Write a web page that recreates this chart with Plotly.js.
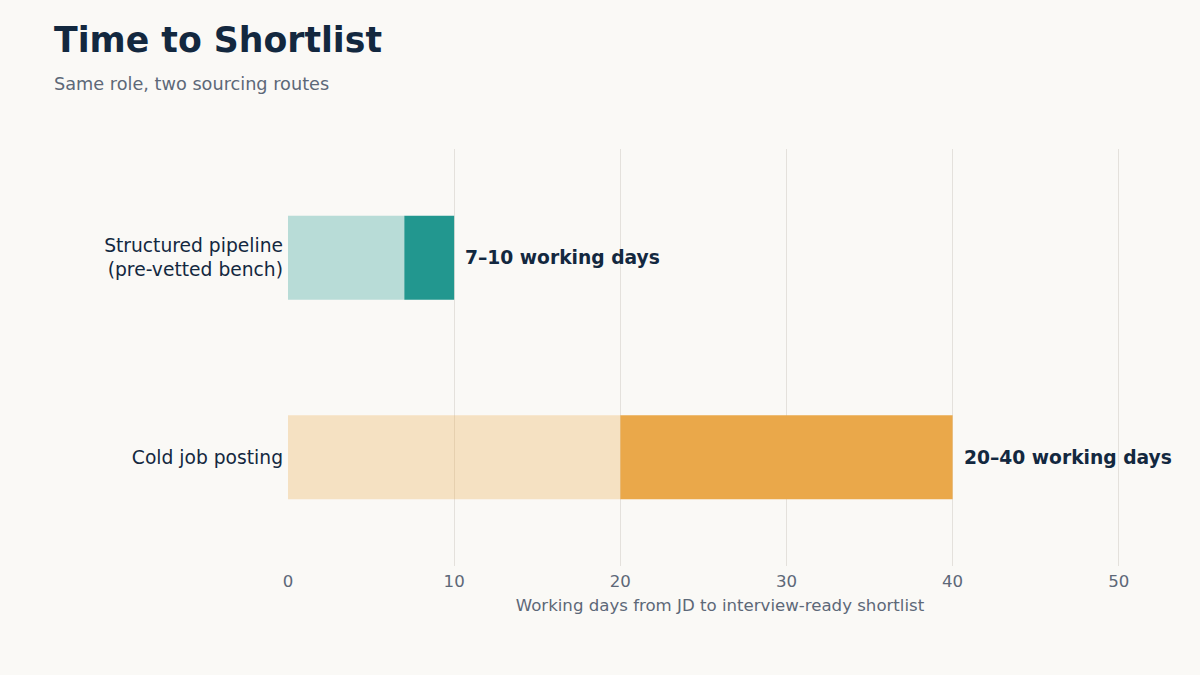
<!DOCTYPE html>
<html>
<head>
<meta charset="utf-8">
<script src="https://cdn.plot.ly/plotly-3.0.1.min.js"></script>
<style>
  html, body { margin: 0; padding: 0; background: #faf9f6; }
  #chart { width: 1200px; height: 675px; }
</style>
</head>
<body>
<div id="chart"></div>
<script>
// Sourcing routes, top to bottom as drawn
const routes = ['Structured pipeline<br>(pre-vetted bench)', 'Cold job posting'];
// Shortlist time window in working days
const lowDays = [7, 20];
const highDays = [10, 40];
const darkColors = ['#22978f', '#eaa84a'];
const lightColors = ['rgba(34,151,143,0.3)', 'rgba(234,168,74,0.3)'];
const xTicks = [0, 10, 20, 30, 40, 50];

const FONT = 'DejaVu Sans, sans-serif';
const NAVY = '#13283f';
const GREY = '#5d6878';

// Lighter segment: zero up to the fastest case
const baseTrace = {
  type: 'bar',
  orientation: 'h',
  y: routes,
  x: lowDays,
  width: 0.42,
  marker: { color: lightColors, line: { width: 0 } },
  hoverinfo: 'skip',
  showlegend: false
};

// Solid segment: the spread between fastest and slowest
const rangeTrace = {
  type: 'bar',
  orientation: 'h',
  y: routes,
  base: lowDays,
  x: highDays.map((h, i) => h - lowDays[i]),
  width: 0.42,
  marker: { color: darkColors, line: { width: 0 } },
  hoverinfo: 'skip',
  showlegend: false
};

const valueLabels = routes.map((r, i) => ({
  x: highDays[i],
  y: r,
  xref: 'x',
  yref: 'y',
  text: '<b>' + lowDays[i] + '–' + highDays[i] + ' working days</b>',
  showarrow: false,
  xanchor: 'left',
  yanchor: 'middle',
  xshift: 9,
  font: { family: FONT, size: 18.7, color: NAVY }
}));

const layout = {
  width: 1200,
  height: 675,
  paper_bgcolor: '#faf9f6',
  plot_bgcolor: '#faf9f6',
  margin: { l: 288, r: 48, t: 149, b: 109 },
  barmode: 'overlay',
  title: {
    text: '<b>Time to Shortlist</b>',
    x: 54 / 1200,
    xref: 'container',
    xanchor: 'left',
    y: 1 - 40 / 675,
    yref: 'container',
    yanchor: 'middle',
    font: { family: FONT, size: 34.7, color: NAVY }
  },
  xaxis: {
    range: [0, 52],
    tickvals: xTicks,
    ticktext: xTicks.map(String),
    showgrid: true,
    gridcolor: '#e4e1dc',
    gridwidth: 1,
    zeroline: false,
    showline: false,
    ticks: '',
    ticklabelstandoff: 3,
    tickfont: { family: FONT, size: 16.6, color: GREY },
    title: {
      text: 'Working days from JD to interview-ready shortlist',
      font: { family: FONT, size: 16.6, color: GREY },
      standoff: 9
    }
  },
  yaxis: {
    type: 'category',
    categoryorder: 'array',
    categoryarray: routes.slice().reverse(),
    range: [-0.545, 1.545],
    showgrid: false,
    zeroline: false,
    showline: false,
    ticks: '',
    ticklabelstandoff: 4,
    tickfont: { family: FONT, size: 18.7, color: NAVY }
  },
  annotations: valueLabels.concat([{
    text: 'Same role, two sourcing routes',
    xref: 'paper',
    yref: 'paper',
    x: (52 - 288) / 864,
    y: (566 - 84) / 417,
    xanchor: 'left',
    yanchor: 'middle',
    showarrow: false,
    font: { family: FONT, size: 17.7, color: GREY }
  }])
};

Plotly.newPlot('chart', [baseTrace, rangeTrace], layout, { displayModeBar: false, staticPlot: true });
</script>
</body>
</html>
